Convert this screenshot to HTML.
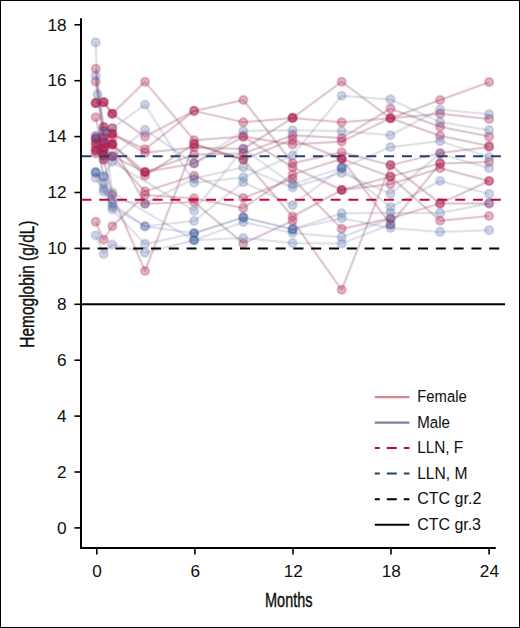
<!DOCTYPE html>
<html><head><meta charset="utf-8"><style>
html,body{margin:0;padding:0;background:#fff;width:520px;height:628px;overflow:hidden;}
svg{display:block;font-family:"Liberation Sans", sans-serif;}
#w{width:520px;height:628px;}
</style></head><body><div id="w">
<svg width="520" height="628" viewBox="0 0 520 628">
<rect x="0" y="0" width="520" height="628" fill="#fff"/>
<g>
<defs><filter id="db" x="0" y="0" width="520" height="628" filterUnits="userSpaceOnUse"><feConvolveMatrix order="3" kernelMatrix="0 1 0 1 6 1 0 1 0"/></filter></defs>
<g filter="url(#db)"><rect x="82" y="20" width="430" height="280" fill="#fff"/>
<polyline points="95.7,103.1 103.7,102.2 112.3,113.7 145.0,81.8 194.1,140.2 243.3,136.6 292.6,144.4 341.7,141.6 390.5,118.2 440.1,135.8 489.1,146.1" fill="none" stroke="rgb(145,55,88)" stroke-opacity="0.32" stroke-width="2.0" stroke-linejoin="round"/>
<circle cx="95.7" cy="103.1" r="4.1" fill="rgb(170,18,68)" fill-opacity="0.3" stroke="rgb(170,18,68)" stroke-opacity="0.3" stroke-width="1.9"/>
<circle cx="103.7" cy="102.2" r="4.1" fill="rgb(170,18,68)" fill-opacity="0.3" stroke="rgb(170,18,68)" stroke-opacity="0.3" stroke-width="1.9"/>
<circle cx="112.3" cy="113.7" r="4.1" fill="rgb(170,18,68)" fill-opacity="0.3" stroke="rgb(170,18,68)" stroke-opacity="0.3" stroke-width="1.9"/>
<circle cx="145.0" cy="81.8" r="4.1" fill="rgb(170,18,68)" fill-opacity="0.3" stroke="rgb(170,18,68)" stroke-opacity="0.3" stroke-width="1.9"/>
<circle cx="194.1" cy="140.2" r="4.1" fill="rgb(170,18,68)" fill-opacity="0.3" stroke="rgb(170,18,68)" stroke-opacity="0.3" stroke-width="1.9"/>
<circle cx="243.3" cy="136.6" r="4.1" fill="rgb(170,18,68)" fill-opacity="0.3" stroke="rgb(170,18,68)" stroke-opacity="0.3" stroke-width="1.9"/>
<circle cx="292.6" cy="144.4" r="4.1" fill="rgb(170,18,68)" fill-opacity="0.3" stroke="rgb(170,18,68)" stroke-opacity="0.3" stroke-width="1.9"/>
<circle cx="341.7" cy="141.6" r="4.1" fill="rgb(170,18,68)" fill-opacity="0.3" stroke="rgb(170,18,68)" stroke-opacity="0.3" stroke-width="1.9"/>
<circle cx="390.5" cy="118.2" r="4.1" fill="rgb(170,18,68)" fill-opacity="0.3" stroke="rgb(170,18,68)" stroke-opacity="0.3" stroke-width="1.9"/>
<circle cx="440.1" cy="135.8" r="4.1" fill="rgb(170,18,68)" fill-opacity="0.3" stroke="rgb(170,18,68)" stroke-opacity="0.3" stroke-width="1.9"/>
<circle cx="489.1" cy="146.1" r="4.1" fill="rgb(170,18,68)" fill-opacity="0.3" stroke="rgb(170,18,68)" stroke-opacity="0.3" stroke-width="1.9"/>
<polyline points="95.7,103.1 103.7,102.2 112.3,113.7 145.0,136.6 194.1,110.9 243.3,100.0 292.6,163.2 341.7,152.3 390.5,165.1 440.1,153.1 489.1,146.9" fill="none" stroke="rgb(145,55,88)" stroke-opacity="0.32" stroke-width="2.0" stroke-linejoin="round"/>
<circle cx="95.7" cy="103.1" r="4.1" fill="rgb(170,18,68)" fill-opacity="0.3" stroke="rgb(170,18,68)" stroke-opacity="0.3" stroke-width="1.9"/>
<circle cx="103.7" cy="102.2" r="4.1" fill="rgb(170,18,68)" fill-opacity="0.3" stroke="rgb(170,18,68)" stroke-opacity="0.3" stroke-width="1.9"/>
<circle cx="112.3" cy="113.7" r="4.1" fill="rgb(170,18,68)" fill-opacity="0.3" stroke="rgb(170,18,68)" stroke-opacity="0.3" stroke-width="1.9"/>
<circle cx="145.0" cy="136.6" r="4.1" fill="rgb(170,18,68)" fill-opacity="0.3" stroke="rgb(170,18,68)" stroke-opacity="0.3" stroke-width="1.9"/>
<circle cx="194.1" cy="110.9" r="4.1" fill="rgb(170,18,68)" fill-opacity="0.3" stroke="rgb(170,18,68)" stroke-opacity="0.3" stroke-width="1.9"/>
<circle cx="243.3" cy="100.0" r="4.1" fill="rgb(170,18,68)" fill-opacity="0.3" stroke="rgb(170,18,68)" stroke-opacity="0.3" stroke-width="1.9"/>
<circle cx="292.6" cy="163.2" r="4.1" fill="rgb(170,18,68)" fill-opacity="0.3" stroke="rgb(170,18,68)" stroke-opacity="0.3" stroke-width="1.9"/>
<circle cx="341.7" cy="152.3" r="4.1" fill="rgb(170,18,68)" fill-opacity="0.3" stroke="rgb(170,18,68)" stroke-opacity="0.3" stroke-width="1.9"/>
<circle cx="390.5" cy="165.1" r="4.1" fill="rgb(170,18,68)" fill-opacity="0.3" stroke="rgb(170,18,68)" stroke-opacity="0.3" stroke-width="1.9"/>
<circle cx="440.1" cy="153.1" r="4.1" fill="rgb(170,18,68)" fill-opacity="0.3" stroke="rgb(170,18,68)" stroke-opacity="0.3" stroke-width="1.9"/>
<circle cx="489.1" cy="146.9" r="4.1" fill="rgb(170,18,68)" fill-opacity="0.3" stroke="rgb(170,18,68)" stroke-opacity="0.3" stroke-width="1.9"/>
<polyline points="95.7,68.7 103.7,127.1 112.3,133.8 145.0,149.2 194.1,110.9 243.3,122.3 292.6,117.9 341.7,81.8 390.5,118.2 440.1,100.0 489.1,82.1" fill="none" stroke="rgb(145,55,88)" stroke-opacity="0.32" stroke-width="2.0" stroke-linejoin="round"/>
<circle cx="95.7" cy="68.7" r="4.1" fill="rgb(170,18,68)" fill-opacity="0.3" stroke="rgb(170,18,68)" stroke-opacity="0.3" stroke-width="1.9"/>
<circle cx="103.7" cy="127.1" r="4.1" fill="rgb(170,18,68)" fill-opacity="0.3" stroke="rgb(170,18,68)" stroke-opacity="0.3" stroke-width="1.9"/>
<circle cx="112.3" cy="133.8" r="4.1" fill="rgb(170,18,68)" fill-opacity="0.3" stroke="rgb(170,18,68)" stroke-opacity="0.3" stroke-width="1.9"/>
<circle cx="145.0" cy="149.2" r="4.1" fill="rgb(170,18,68)" fill-opacity="0.3" stroke="rgb(170,18,68)" stroke-opacity="0.3" stroke-width="1.9"/>
<circle cx="194.1" cy="110.9" r="4.1" fill="rgb(170,18,68)" fill-opacity="0.3" stroke="rgb(170,18,68)" stroke-opacity="0.3" stroke-width="1.9"/>
<circle cx="243.3" cy="122.3" r="4.1" fill="rgb(170,18,68)" fill-opacity="0.3" stroke="rgb(170,18,68)" stroke-opacity="0.3" stroke-width="1.9"/>
<circle cx="292.6" cy="117.9" r="4.1" fill="rgb(170,18,68)" fill-opacity="0.3" stroke="rgb(170,18,68)" stroke-opacity="0.3" stroke-width="1.9"/>
<circle cx="341.7" cy="81.8" r="4.1" fill="rgb(170,18,68)" fill-opacity="0.3" stroke="rgb(170,18,68)" stroke-opacity="0.3" stroke-width="1.9"/>
<circle cx="390.5" cy="118.2" r="4.1" fill="rgb(170,18,68)" fill-opacity="0.3" stroke="rgb(170,18,68)" stroke-opacity="0.3" stroke-width="1.9"/>
<circle cx="440.1" cy="100.0" r="4.1" fill="rgb(170,18,68)" fill-opacity="0.3" stroke="rgb(170,18,68)" stroke-opacity="0.3" stroke-width="1.9"/>
<circle cx="489.1" cy="82.1" r="4.1" fill="rgb(170,18,68)" fill-opacity="0.3" stroke="rgb(170,18,68)" stroke-opacity="0.3" stroke-width="1.9"/>
<polyline points="95.7,81.5 103.7,136.6 112.3,133.8 145.0,152.8 194.1,147.5 243.3,148.9 292.6,117.9 341.7,122.3 390.5,118.2 440.1,113.7 489.1,119.0" fill="none" stroke="rgb(145,55,88)" stroke-opacity="0.32" stroke-width="2.0" stroke-linejoin="round"/>
<circle cx="95.7" cy="81.5" r="4.1" fill="rgb(170,18,68)" fill-opacity="0.3" stroke="rgb(170,18,68)" stroke-opacity="0.3" stroke-width="1.9"/>
<circle cx="103.7" cy="136.6" r="4.1" fill="rgb(170,18,68)" fill-opacity="0.3" stroke="rgb(170,18,68)" stroke-opacity="0.3" stroke-width="1.9"/>
<circle cx="112.3" cy="133.8" r="4.1" fill="rgb(170,18,68)" fill-opacity="0.3" stroke="rgb(170,18,68)" stroke-opacity="0.3" stroke-width="1.9"/>
<circle cx="145.0" cy="152.8" r="4.1" fill="rgb(170,18,68)" fill-opacity="0.3" stroke="rgb(170,18,68)" stroke-opacity="0.3" stroke-width="1.9"/>
<circle cx="194.1" cy="147.5" r="4.1" fill="rgb(170,18,68)" fill-opacity="0.3" stroke="rgb(170,18,68)" stroke-opacity="0.3" stroke-width="1.9"/>
<circle cx="243.3" cy="148.9" r="4.1" fill="rgb(170,18,68)" fill-opacity="0.3" stroke="rgb(170,18,68)" stroke-opacity="0.3" stroke-width="1.9"/>
<circle cx="292.6" cy="117.9" r="4.1" fill="rgb(170,18,68)" fill-opacity="0.3" stroke="rgb(170,18,68)" stroke-opacity="0.3" stroke-width="1.9"/>
<circle cx="341.7" cy="122.3" r="4.1" fill="rgb(170,18,68)" fill-opacity="0.3" stroke="rgb(170,18,68)" stroke-opacity="0.3" stroke-width="1.9"/>
<circle cx="390.5" cy="118.2" r="4.1" fill="rgb(170,18,68)" fill-opacity="0.3" stroke="rgb(170,18,68)" stroke-opacity="0.3" stroke-width="1.9"/>
<circle cx="440.1" cy="113.7" r="4.1" fill="rgb(170,18,68)" fill-opacity="0.3" stroke="rgb(170,18,68)" stroke-opacity="0.3" stroke-width="1.9"/>
<circle cx="489.1" cy="119.0" r="4.1" fill="rgb(170,18,68)" fill-opacity="0.3" stroke="rgb(170,18,68)" stroke-opacity="0.3" stroke-width="1.9"/>
<polyline points="95.7,139.4 103.7,142.2 112.3,144.4 145.0,172.1 194.1,154.5 243.3,153.4 292.6,135.2 341.7,138.0 390.5,108.6 440.1,126.8 489.1,136.6" fill="none" stroke="rgb(145,55,88)" stroke-opacity="0.32" stroke-width="2.0" stroke-linejoin="round"/>
<circle cx="95.7" cy="139.4" r="4.1" fill="rgb(170,18,68)" fill-opacity="0.3" stroke="rgb(170,18,68)" stroke-opacity="0.3" stroke-width="1.9"/>
<circle cx="103.7" cy="142.2" r="4.1" fill="rgb(170,18,68)" fill-opacity="0.3" stroke="rgb(170,18,68)" stroke-opacity="0.3" stroke-width="1.9"/>
<circle cx="112.3" cy="144.4" r="4.1" fill="rgb(170,18,68)" fill-opacity="0.3" stroke="rgb(170,18,68)" stroke-opacity="0.3" stroke-width="1.9"/>
<circle cx="145.0" cy="172.1" r="4.1" fill="rgb(170,18,68)" fill-opacity="0.3" stroke="rgb(170,18,68)" stroke-opacity="0.3" stroke-width="1.9"/>
<circle cx="194.1" cy="154.5" r="4.1" fill="rgb(170,18,68)" fill-opacity="0.3" stroke="rgb(170,18,68)" stroke-opacity="0.3" stroke-width="1.9"/>
<circle cx="243.3" cy="153.4" r="4.1" fill="rgb(170,18,68)" fill-opacity="0.3" stroke="rgb(170,18,68)" stroke-opacity="0.3" stroke-width="1.9"/>
<circle cx="292.6" cy="135.2" r="4.1" fill="rgb(170,18,68)" fill-opacity="0.3" stroke="rgb(170,18,68)" stroke-opacity="0.3" stroke-width="1.9"/>
<circle cx="341.7" cy="138.0" r="4.1" fill="rgb(170,18,68)" fill-opacity="0.3" stroke="rgb(170,18,68)" stroke-opacity="0.3" stroke-width="1.9"/>
<circle cx="390.5" cy="108.6" r="4.1" fill="rgb(170,18,68)" fill-opacity="0.3" stroke="rgb(170,18,68)" stroke-opacity="0.3" stroke-width="1.9"/>
<circle cx="440.1" cy="126.8" r="4.1" fill="rgb(170,18,68)" fill-opacity="0.3" stroke="rgb(170,18,68)" stroke-opacity="0.3" stroke-width="1.9"/>
<circle cx="489.1" cy="136.6" r="4.1" fill="rgb(170,18,68)" fill-opacity="0.3" stroke="rgb(170,18,68)" stroke-opacity="0.3" stroke-width="1.9"/>
<polyline points="95.7,143.6 103.7,147.8 112.3,144.4 145.0,175.7 194.1,144.1 243.3,159.5 292.6,139.4 341.7,158.7 390.5,176.6 440.1,163.4 489.1,162.0" fill="none" stroke="rgb(145,55,88)" stroke-opacity="0.32" stroke-width="2.0" stroke-linejoin="round"/>
<circle cx="95.7" cy="143.6" r="4.1" fill="rgb(170,18,68)" fill-opacity="0.3" stroke="rgb(170,18,68)" stroke-opacity="0.3" stroke-width="1.9"/>
<circle cx="103.7" cy="147.8" r="4.1" fill="rgb(170,18,68)" fill-opacity="0.3" stroke="rgb(170,18,68)" stroke-opacity="0.3" stroke-width="1.9"/>
<circle cx="112.3" cy="144.4" r="4.1" fill="rgb(170,18,68)" fill-opacity="0.3" stroke="rgb(170,18,68)" stroke-opacity="0.3" stroke-width="1.9"/>
<circle cx="145.0" cy="175.7" r="4.1" fill="rgb(170,18,68)" fill-opacity="0.3" stroke="rgb(170,18,68)" stroke-opacity="0.3" stroke-width="1.9"/>
<circle cx="194.1" cy="144.1" r="4.1" fill="rgb(170,18,68)" fill-opacity="0.3" stroke="rgb(170,18,68)" stroke-opacity="0.3" stroke-width="1.9"/>
<circle cx="243.3" cy="159.5" r="4.1" fill="rgb(170,18,68)" fill-opacity="0.3" stroke="rgb(170,18,68)" stroke-opacity="0.3" stroke-width="1.9"/>
<circle cx="292.6" cy="139.4" r="4.1" fill="rgb(170,18,68)" fill-opacity="0.3" stroke="rgb(170,18,68)" stroke-opacity="0.3" stroke-width="1.9"/>
<circle cx="341.7" cy="158.7" r="4.1" fill="rgb(170,18,68)" fill-opacity="0.3" stroke="rgb(170,18,68)" stroke-opacity="0.3" stroke-width="1.9"/>
<circle cx="390.5" cy="176.6" r="4.1" fill="rgb(170,18,68)" fill-opacity="0.3" stroke="rgb(170,18,68)" stroke-opacity="0.3" stroke-width="1.9"/>
<circle cx="440.1" cy="163.4" r="4.1" fill="rgb(170,18,68)" fill-opacity="0.3" stroke="rgb(170,18,68)" stroke-opacity="0.3" stroke-width="1.9"/>
<circle cx="489.1" cy="162.0" r="4.1" fill="rgb(170,18,68)" fill-opacity="0.3" stroke="rgb(170,18,68)" stroke-opacity="0.3" stroke-width="1.9"/>
<polyline points="95.7,147.8 103.7,150.6 112.3,156.2 145.0,172.1 194.1,163.4 243.3,136.6 292.6,167.3 341.7,190.0 390.5,184.1 440.1,168.2 489.1,181.0" fill="none" stroke="rgb(145,55,88)" stroke-opacity="0.32" stroke-width="2.0" stroke-linejoin="round"/>
<circle cx="95.7" cy="147.8" r="4.1" fill="rgb(170,18,68)" fill-opacity="0.3" stroke="rgb(170,18,68)" stroke-opacity="0.3" stroke-width="1.9"/>
<circle cx="103.7" cy="150.6" r="4.1" fill="rgb(170,18,68)" fill-opacity="0.3" stroke="rgb(170,18,68)" stroke-opacity="0.3" stroke-width="1.9"/>
<circle cx="112.3" cy="156.2" r="4.1" fill="rgb(170,18,68)" fill-opacity="0.3" stroke="rgb(170,18,68)" stroke-opacity="0.3" stroke-width="1.9"/>
<circle cx="145.0" cy="172.1" r="4.1" fill="rgb(170,18,68)" fill-opacity="0.3" stroke="rgb(170,18,68)" stroke-opacity="0.3" stroke-width="1.9"/>
<circle cx="194.1" cy="163.4" r="4.1" fill="rgb(170,18,68)" fill-opacity="0.3" stroke="rgb(170,18,68)" stroke-opacity="0.3" stroke-width="1.9"/>
<circle cx="243.3" cy="136.6" r="4.1" fill="rgb(170,18,68)" fill-opacity="0.3" stroke="rgb(170,18,68)" stroke-opacity="0.3" stroke-width="1.9"/>
<circle cx="292.6" cy="167.3" r="4.1" fill="rgb(170,18,68)" fill-opacity="0.3" stroke="rgb(170,18,68)" stroke-opacity="0.3" stroke-width="1.9"/>
<circle cx="341.7" cy="190.0" r="4.1" fill="rgb(170,18,68)" fill-opacity="0.3" stroke="rgb(170,18,68)" stroke-opacity="0.3" stroke-width="1.9"/>
<circle cx="390.5" cy="184.1" r="4.1" fill="rgb(170,18,68)" fill-opacity="0.3" stroke="rgb(170,18,68)" stroke-opacity="0.3" stroke-width="1.9"/>
<circle cx="440.1" cy="168.2" r="4.1" fill="rgb(170,18,68)" fill-opacity="0.3" stroke="rgb(170,18,68)" stroke-opacity="0.3" stroke-width="1.9"/>
<circle cx="489.1" cy="181.0" r="4.1" fill="rgb(170,18,68)" fill-opacity="0.3" stroke="rgb(170,18,68)" stroke-opacity="0.3" stroke-width="1.9"/>
<polyline points="95.7,117.3 103.7,156.2 112.3,156.2 145.0,191.4 194.1,175.7 243.3,198.1 292.6,178.8 341.7,228.8 390.5,218.5 440.1,203.4 489.1,203.4" fill="none" stroke="rgb(145,55,88)" stroke-opacity="0.32" stroke-width="2.0" stroke-linejoin="round"/>
<circle cx="95.7" cy="117.3" r="4.1" fill="rgb(170,18,68)" fill-opacity="0.3" stroke="rgb(170,18,68)" stroke-opacity="0.3" stroke-width="1.9"/>
<circle cx="103.7" cy="156.2" r="4.1" fill="rgb(170,18,68)" fill-opacity="0.3" stroke="rgb(170,18,68)" stroke-opacity="0.3" stroke-width="1.9"/>
<circle cx="112.3" cy="156.2" r="4.1" fill="rgb(170,18,68)" fill-opacity="0.3" stroke="rgb(170,18,68)" stroke-opacity="0.3" stroke-width="1.9"/>
<circle cx="145.0" cy="191.4" r="4.1" fill="rgb(170,18,68)" fill-opacity="0.3" stroke="rgb(170,18,68)" stroke-opacity="0.3" stroke-width="1.9"/>
<circle cx="194.1" cy="175.7" r="4.1" fill="rgb(170,18,68)" fill-opacity="0.3" stroke="rgb(170,18,68)" stroke-opacity="0.3" stroke-width="1.9"/>
<circle cx="243.3" cy="198.1" r="4.1" fill="rgb(170,18,68)" fill-opacity="0.3" stroke="rgb(170,18,68)" stroke-opacity="0.3" stroke-width="1.9"/>
<circle cx="292.6" cy="178.8" r="4.1" fill="rgb(170,18,68)" fill-opacity="0.3" stroke="rgb(170,18,68)" stroke-opacity="0.3" stroke-width="1.9"/>
<circle cx="341.7" cy="228.8" r="4.1" fill="rgb(170,18,68)" fill-opacity="0.3" stroke="rgb(170,18,68)" stroke-opacity="0.3" stroke-width="1.9"/>
<circle cx="390.5" cy="218.5" r="4.1" fill="rgb(170,18,68)" fill-opacity="0.3" stroke="rgb(170,18,68)" stroke-opacity="0.3" stroke-width="1.9"/>
<circle cx="440.1" cy="203.4" r="4.1" fill="rgb(170,18,68)" fill-opacity="0.3" stroke="rgb(170,18,68)" stroke-opacity="0.3" stroke-width="1.9"/>
<circle cx="489.1" cy="203.4" r="4.1" fill="rgb(170,18,68)" fill-opacity="0.3" stroke="rgb(170,18,68)" stroke-opacity="0.3" stroke-width="1.9"/>
<polyline points="95.7,150.6 103.7,160.1 112.3,195.0 145.0,271.0 194.1,144.1 243.3,159.5 292.6,216.5 341.7,190.0 390.5,176.6 440.1,220.7 489.1,216.0" fill="none" stroke="rgb(145,55,88)" stroke-opacity="0.32" stroke-width="2.0" stroke-linejoin="round"/>
<circle cx="95.7" cy="150.6" r="4.1" fill="rgb(170,18,68)" fill-opacity="0.3" stroke="rgb(170,18,68)" stroke-opacity="0.3" stroke-width="1.9"/>
<circle cx="103.7" cy="160.1" r="4.1" fill="rgb(170,18,68)" fill-opacity="0.3" stroke="rgb(170,18,68)" stroke-opacity="0.3" stroke-width="1.9"/>
<circle cx="112.3" cy="195.0" r="4.1" fill="rgb(170,18,68)" fill-opacity="0.3" stroke="rgb(170,18,68)" stroke-opacity="0.3" stroke-width="1.9"/>
<circle cx="145.0" cy="271.0" r="4.1" fill="rgb(170,18,68)" fill-opacity="0.3" stroke="rgb(170,18,68)" stroke-opacity="0.3" stroke-width="1.9"/>
<circle cx="194.1" cy="144.1" r="4.1" fill="rgb(170,18,68)" fill-opacity="0.3" stroke="rgb(170,18,68)" stroke-opacity="0.3" stroke-width="1.9"/>
<circle cx="243.3" cy="159.5" r="4.1" fill="rgb(170,18,68)" fill-opacity="0.3" stroke="rgb(170,18,68)" stroke-opacity="0.3" stroke-width="1.9"/>
<circle cx="292.6" cy="216.5" r="4.1" fill="rgb(170,18,68)" fill-opacity="0.3" stroke="rgb(170,18,68)" stroke-opacity="0.3" stroke-width="1.9"/>
<circle cx="341.7" cy="190.0" r="4.1" fill="rgb(170,18,68)" fill-opacity="0.3" stroke="rgb(170,18,68)" stroke-opacity="0.3" stroke-width="1.9"/>
<circle cx="390.5" cy="176.6" r="4.1" fill="rgb(170,18,68)" fill-opacity="0.3" stroke="rgb(170,18,68)" stroke-opacity="0.3" stroke-width="1.9"/>
<circle cx="440.1" cy="220.7" r="4.1" fill="rgb(170,18,68)" fill-opacity="0.3" stroke="rgb(170,18,68)" stroke-opacity="0.3" stroke-width="1.9"/>
<circle cx="489.1" cy="216.0" r="4.1" fill="rgb(170,18,68)" fill-opacity="0.3" stroke="rgb(170,18,68)" stroke-opacity="0.3" stroke-width="1.9"/>
<polyline points="95.7,153.4 103.7,150.6 112.3,144.4 145.0,203.7 194.1,202.0 243.3,243.6 292.6,220.7 341.7,289.8 390.5,165.1 440.1,203.4 489.1,181.0" fill="none" stroke="rgb(145,55,88)" stroke-opacity="0.32" stroke-width="2.0" stroke-linejoin="round"/>
<circle cx="95.7" cy="153.4" r="4.1" fill="rgb(170,18,68)" fill-opacity="0.3" stroke="rgb(170,18,68)" stroke-opacity="0.3" stroke-width="1.9"/>
<circle cx="103.7" cy="150.6" r="4.1" fill="rgb(170,18,68)" fill-opacity="0.3" stroke="rgb(170,18,68)" stroke-opacity="0.3" stroke-width="1.9"/>
<circle cx="112.3" cy="144.4" r="4.1" fill="rgb(170,18,68)" fill-opacity="0.3" stroke="rgb(170,18,68)" stroke-opacity="0.3" stroke-width="1.9"/>
<circle cx="145.0" cy="203.7" r="4.1" fill="rgb(170,18,68)" fill-opacity="0.3" stroke="rgb(170,18,68)" stroke-opacity="0.3" stroke-width="1.9"/>
<circle cx="194.1" cy="202.0" r="4.1" fill="rgb(170,18,68)" fill-opacity="0.3" stroke="rgb(170,18,68)" stroke-opacity="0.3" stroke-width="1.9"/>
<circle cx="243.3" cy="243.6" r="4.1" fill="rgb(170,18,68)" fill-opacity="0.3" stroke="rgb(170,18,68)" stroke-opacity="0.3" stroke-width="1.9"/>
<circle cx="292.6" cy="220.7" r="4.1" fill="rgb(170,18,68)" fill-opacity="0.3" stroke="rgb(170,18,68)" stroke-opacity="0.3" stroke-width="1.9"/>
<circle cx="341.7" cy="289.8" r="4.1" fill="rgb(170,18,68)" fill-opacity="0.3" stroke="rgb(170,18,68)" stroke-opacity="0.3" stroke-width="1.9"/>
<circle cx="390.5" cy="165.1" r="4.1" fill="rgb(170,18,68)" fill-opacity="0.3" stroke="rgb(170,18,68)" stroke-opacity="0.3" stroke-width="1.9"/>
<circle cx="440.1" cy="203.4" r="4.1" fill="rgb(170,18,68)" fill-opacity="0.3" stroke="rgb(170,18,68)" stroke-opacity="0.3" stroke-width="1.9"/>
<circle cx="489.1" cy="181.0" r="4.1" fill="rgb(170,18,68)" fill-opacity="0.3" stroke="rgb(170,18,68)" stroke-opacity="0.3" stroke-width="1.9"/>
<polyline points="95.7,221.8 103.7,239.7 112.3,226.3 145.0,195.0 194.1,198.4 243.3,207.9 292.6,174.6 341.7,158.7 390.5,224.4 440.1,163.4" fill="none" stroke="rgb(145,55,88)" stroke-opacity="0.32" stroke-width="2.0" stroke-linejoin="round"/>
<circle cx="95.7" cy="221.8" r="4.1" fill="rgb(170,18,68)" fill-opacity="0.3" stroke="rgb(170,18,68)" stroke-opacity="0.3" stroke-width="1.9"/>
<circle cx="103.7" cy="239.7" r="4.1" fill="rgb(170,18,68)" fill-opacity="0.3" stroke="rgb(170,18,68)" stroke-opacity="0.3" stroke-width="1.9"/>
<circle cx="112.3" cy="226.3" r="4.1" fill="rgb(170,18,68)" fill-opacity="0.3" stroke="rgb(170,18,68)" stroke-opacity="0.3" stroke-width="1.9"/>
<circle cx="145.0" cy="195.0" r="4.1" fill="rgb(170,18,68)" fill-opacity="0.3" stroke="rgb(170,18,68)" stroke-opacity="0.3" stroke-width="1.9"/>
<circle cx="194.1" cy="198.4" r="4.1" fill="rgb(170,18,68)" fill-opacity="0.3" stroke="rgb(170,18,68)" stroke-opacity="0.3" stroke-width="1.9"/>
<circle cx="243.3" cy="207.9" r="4.1" fill="rgb(170,18,68)" fill-opacity="0.3" stroke="rgb(170,18,68)" stroke-opacity="0.3" stroke-width="1.9"/>
<circle cx="292.6" cy="174.6" r="4.1" fill="rgb(170,18,68)" fill-opacity="0.3" stroke="rgb(170,18,68)" stroke-opacity="0.3" stroke-width="1.9"/>
<circle cx="341.7" cy="158.7" r="4.1" fill="rgb(170,18,68)" fill-opacity="0.3" stroke="rgb(170,18,68)" stroke-opacity="0.3" stroke-width="1.9"/>
<circle cx="390.5" cy="224.4" r="4.1" fill="rgb(170,18,68)" fill-opacity="0.3" stroke="rgb(170,18,68)" stroke-opacity="0.3" stroke-width="1.9"/>
<circle cx="440.1" cy="163.4" r="4.1" fill="rgb(170,18,68)" fill-opacity="0.3" stroke="rgb(170,18,68)" stroke-opacity="0.3" stroke-width="1.9"/>
<polyline points="95.7,42.4 97.6,94.4 103.7,131.0 112.3,128.2 145.0,104.7 194.1,182.7 243.3,177.4 292.6,155.3 341.7,95.8 390.5,99.4 440.1,122.1 489.1,130.2" fill="none" stroke="rgb(85,100,150)" stroke-opacity="0.22" stroke-width="2.0" stroke-linejoin="round"/>
<circle cx="95.7" cy="42.4" r="4.1" fill="rgb(55,88,155)" fill-opacity="0.23" stroke="rgb(55,88,155)" stroke-opacity="0.23" stroke-width="1.9"/>
<circle cx="97.6" cy="94.4" r="4.1" fill="rgb(55,88,155)" fill-opacity="0.23" stroke="rgb(55,88,155)" stroke-opacity="0.23" stroke-width="1.9"/>
<circle cx="103.7" cy="131.0" r="4.1" fill="rgb(55,88,155)" fill-opacity="0.23" stroke="rgb(55,88,155)" stroke-opacity="0.23" stroke-width="1.9"/>
<circle cx="112.3" cy="128.2" r="4.1" fill="rgb(55,88,155)" fill-opacity="0.23" stroke="rgb(55,88,155)" stroke-opacity="0.23" stroke-width="1.9"/>
<circle cx="145.0" cy="104.7" r="4.1" fill="rgb(55,88,155)" fill-opacity="0.23" stroke="rgb(55,88,155)" stroke-opacity="0.23" stroke-width="1.9"/>
<circle cx="194.1" cy="182.7" r="4.1" fill="rgb(55,88,155)" fill-opacity="0.23" stroke="rgb(55,88,155)" stroke-opacity="0.23" stroke-width="1.9"/>
<circle cx="243.3" cy="177.4" r="4.1" fill="rgb(55,88,155)" fill-opacity="0.23" stroke="rgb(55,88,155)" stroke-opacity="0.23" stroke-width="1.9"/>
<circle cx="292.6" cy="155.3" r="4.1" fill="rgb(55,88,155)" fill-opacity="0.23" stroke="rgb(55,88,155)" stroke-opacity="0.23" stroke-width="1.9"/>
<circle cx="341.7" cy="95.8" r="4.1" fill="rgb(55,88,155)" fill-opacity="0.23" stroke="rgb(55,88,155)" stroke-opacity="0.23" stroke-width="1.9"/>
<circle cx="390.5" cy="99.4" r="4.1" fill="rgb(55,88,155)" fill-opacity="0.23" stroke="rgb(55,88,155)" stroke-opacity="0.23" stroke-width="1.9"/>
<circle cx="440.1" cy="122.1" r="4.1" fill="rgb(55,88,155)" fill-opacity="0.23" stroke="rgb(55,88,155)" stroke-opacity="0.23" stroke-width="1.9"/>
<circle cx="489.1" cy="130.2" r="4.1" fill="rgb(55,88,155)" fill-opacity="0.23" stroke="rgb(55,88,155)" stroke-opacity="0.23" stroke-width="1.9"/>
<polyline points="95.7,75.7 103.7,139.4 112.3,156.7 145.0,129.9 194.1,163.4 243.3,131.0 292.6,130.2 341.7,131.0 390.5,135.2 440.1,109.5 489.1,114.2" fill="none" stroke="rgb(85,100,150)" stroke-opacity="0.22" stroke-width="2.0" stroke-linejoin="round"/>
<circle cx="95.7" cy="75.7" r="4.1" fill="rgb(55,88,155)" fill-opacity="0.23" stroke="rgb(55,88,155)" stroke-opacity="0.23" stroke-width="1.9"/>
<circle cx="103.7" cy="139.4" r="4.1" fill="rgb(55,88,155)" fill-opacity="0.23" stroke="rgb(55,88,155)" stroke-opacity="0.23" stroke-width="1.9"/>
<circle cx="112.3" cy="156.7" r="4.1" fill="rgb(55,88,155)" fill-opacity="0.23" stroke="rgb(55,88,155)" stroke-opacity="0.23" stroke-width="1.9"/>
<circle cx="145.0" cy="129.9" r="4.1" fill="rgb(55,88,155)" fill-opacity="0.23" stroke="rgb(55,88,155)" stroke-opacity="0.23" stroke-width="1.9"/>
<circle cx="194.1" cy="163.4" r="4.1" fill="rgb(55,88,155)" fill-opacity="0.23" stroke="rgb(55,88,155)" stroke-opacity="0.23" stroke-width="1.9"/>
<circle cx="243.3" cy="131.0" r="4.1" fill="rgb(55,88,155)" fill-opacity="0.23" stroke="rgb(55,88,155)" stroke-opacity="0.23" stroke-width="1.9"/>
<circle cx="292.6" cy="130.2" r="4.1" fill="rgb(55,88,155)" fill-opacity="0.23" stroke="rgb(55,88,155)" stroke-opacity="0.23" stroke-width="1.9"/>
<circle cx="341.7" cy="131.0" r="4.1" fill="rgb(55,88,155)" fill-opacity="0.23" stroke="rgb(55,88,155)" stroke-opacity="0.23" stroke-width="1.9"/>
<circle cx="390.5" cy="135.2" r="4.1" fill="rgb(55,88,155)" fill-opacity="0.23" stroke="rgb(55,88,155)" stroke-opacity="0.23" stroke-width="1.9"/>
<circle cx="440.1" cy="109.5" r="4.1" fill="rgb(55,88,155)" fill-opacity="0.23" stroke="rgb(55,88,155)" stroke-opacity="0.23" stroke-width="1.9"/>
<circle cx="489.1" cy="114.2" r="4.1" fill="rgb(55,88,155)" fill-opacity="0.23" stroke="rgb(55,88,155)" stroke-opacity="0.23" stroke-width="1.9"/>
<polyline points="95.7,135.8 103.7,176.0 112.3,161.8 194.1,210.7 243.3,148.9 292.6,184.4 341.7,167.9 390.5,147.2 440.1,141.1 489.1,157.0" fill="none" stroke="rgb(85,100,150)" stroke-opacity="0.22" stroke-width="2.0" stroke-linejoin="round"/>
<circle cx="95.7" cy="135.8" r="4.1" fill="rgb(55,88,155)" fill-opacity="0.23" stroke="rgb(55,88,155)" stroke-opacity="0.23" stroke-width="1.9"/>
<circle cx="103.7" cy="176.0" r="4.1" fill="rgb(55,88,155)" fill-opacity="0.23" stroke="rgb(55,88,155)" stroke-opacity="0.23" stroke-width="1.9"/>
<circle cx="112.3" cy="161.8" r="4.1" fill="rgb(55,88,155)" fill-opacity="0.23" stroke="rgb(55,88,155)" stroke-opacity="0.23" stroke-width="1.9"/>
<circle cx="194.1" cy="210.7" r="4.1" fill="rgb(55,88,155)" fill-opacity="0.23" stroke="rgb(55,88,155)" stroke-opacity="0.23" stroke-width="1.9"/>
<circle cx="243.3" cy="148.9" r="4.1" fill="rgb(55,88,155)" fill-opacity="0.23" stroke="rgb(55,88,155)" stroke-opacity="0.23" stroke-width="1.9"/>
<circle cx="292.6" cy="184.4" r="4.1" fill="rgb(55,88,155)" fill-opacity="0.23" stroke="rgb(55,88,155)" stroke-opacity="0.23" stroke-width="1.9"/>
<circle cx="341.7" cy="167.9" r="4.1" fill="rgb(55,88,155)" fill-opacity="0.23" stroke="rgb(55,88,155)" stroke-opacity="0.23" stroke-width="1.9"/>
<circle cx="390.5" cy="147.2" r="4.1" fill="rgb(55,88,155)" fill-opacity="0.23" stroke="rgb(55,88,155)" stroke-opacity="0.23" stroke-width="1.9"/>
<circle cx="440.1" cy="141.1" r="4.1" fill="rgb(55,88,155)" fill-opacity="0.23" stroke="rgb(55,88,155)" stroke-opacity="0.23" stroke-width="1.9"/>
<circle cx="489.1" cy="157.0" r="4.1" fill="rgb(55,88,155)" fill-opacity="0.23" stroke="rgb(55,88,155)" stroke-opacity="0.23" stroke-width="1.9"/>
<polyline points="95.7,139.4 103.7,177.1 112.3,200.0 145.0,203.7 194.1,178.5 243.3,167.3 292.6,187.5 341.7,172.9 390.5,193.6 440.1,153.9 489.1,168.2" fill="none" stroke="rgb(85,100,150)" stroke-opacity="0.22" stroke-width="2.0" stroke-linejoin="round"/>
<circle cx="95.7" cy="139.4" r="4.1" fill="rgb(55,88,155)" fill-opacity="0.23" stroke="rgb(55,88,155)" stroke-opacity="0.23" stroke-width="1.9"/>
<circle cx="103.7" cy="177.1" r="4.1" fill="rgb(55,88,155)" fill-opacity="0.23" stroke="rgb(55,88,155)" stroke-opacity="0.23" stroke-width="1.9"/>
<circle cx="112.3" cy="200.0" r="4.1" fill="rgb(55,88,155)" fill-opacity="0.23" stroke="rgb(55,88,155)" stroke-opacity="0.23" stroke-width="1.9"/>
<circle cx="145.0" cy="203.7" r="4.1" fill="rgb(55,88,155)" fill-opacity="0.23" stroke="rgb(55,88,155)" stroke-opacity="0.23" stroke-width="1.9"/>
<circle cx="194.1" cy="178.5" r="4.1" fill="rgb(55,88,155)" fill-opacity="0.23" stroke="rgb(55,88,155)" stroke-opacity="0.23" stroke-width="1.9"/>
<circle cx="243.3" cy="167.3" r="4.1" fill="rgb(55,88,155)" fill-opacity="0.23" stroke="rgb(55,88,155)" stroke-opacity="0.23" stroke-width="1.9"/>
<circle cx="292.6" cy="187.5" r="4.1" fill="rgb(55,88,155)" fill-opacity="0.23" stroke="rgb(55,88,155)" stroke-opacity="0.23" stroke-width="1.9"/>
<circle cx="341.7" cy="172.9" r="4.1" fill="rgb(55,88,155)" fill-opacity="0.23" stroke="rgb(55,88,155)" stroke-opacity="0.23" stroke-width="1.9"/>
<circle cx="390.5" cy="193.6" r="4.1" fill="rgb(55,88,155)" fill-opacity="0.23" stroke="rgb(55,88,155)" stroke-opacity="0.23" stroke-width="1.9"/>
<circle cx="440.1" cy="153.9" r="4.1" fill="rgb(55,88,155)" fill-opacity="0.23" stroke="rgb(55,88,155)" stroke-opacity="0.23" stroke-width="1.9"/>
<circle cx="489.1" cy="168.2" r="4.1" fill="rgb(55,88,155)" fill-opacity="0.23" stroke="rgb(55,88,155)" stroke-opacity="0.23" stroke-width="1.9"/>
<polyline points="95.7,172.4 103.7,183.0 112.3,206.8 145.0,226.3 194.1,221.0 243.3,182.2 292.6,205.1 341.7,167.9 390.5,207.0 440.1,181.0 489.1,193.9" fill="none" stroke="rgb(85,100,150)" stroke-opacity="0.22" stroke-width="2.0" stroke-linejoin="round"/>
<circle cx="95.7" cy="172.4" r="4.1" fill="rgb(55,88,155)" fill-opacity="0.23" stroke="rgb(55,88,155)" stroke-opacity="0.23" stroke-width="1.9"/>
<circle cx="103.7" cy="183.0" r="4.1" fill="rgb(55,88,155)" fill-opacity="0.23" stroke="rgb(55,88,155)" stroke-opacity="0.23" stroke-width="1.9"/>
<circle cx="112.3" cy="206.8" r="4.1" fill="rgb(55,88,155)" fill-opacity="0.23" stroke="rgb(55,88,155)" stroke-opacity="0.23" stroke-width="1.9"/>
<circle cx="145.0" cy="226.3" r="4.1" fill="rgb(55,88,155)" fill-opacity="0.23" stroke="rgb(55,88,155)" stroke-opacity="0.23" stroke-width="1.9"/>
<circle cx="194.1" cy="221.0" r="4.1" fill="rgb(55,88,155)" fill-opacity="0.23" stroke="rgb(55,88,155)" stroke-opacity="0.23" stroke-width="1.9"/>
<circle cx="243.3" cy="182.2" r="4.1" fill="rgb(55,88,155)" fill-opacity="0.23" stroke="rgb(55,88,155)" stroke-opacity="0.23" stroke-width="1.9"/>
<circle cx="292.6" cy="205.1" r="4.1" fill="rgb(55,88,155)" fill-opacity="0.23" stroke="rgb(55,88,155)" stroke-opacity="0.23" stroke-width="1.9"/>
<circle cx="341.7" cy="167.9" r="4.1" fill="rgb(55,88,155)" fill-opacity="0.23" stroke="rgb(55,88,155)" stroke-opacity="0.23" stroke-width="1.9"/>
<circle cx="390.5" cy="207.0" r="4.1" fill="rgb(55,88,155)" fill-opacity="0.23" stroke="rgb(55,88,155)" stroke-opacity="0.23" stroke-width="1.9"/>
<circle cx="440.1" cy="181.0" r="4.1" fill="rgb(55,88,155)" fill-opacity="0.23" stroke="rgb(55,88,155)" stroke-opacity="0.23" stroke-width="1.9"/>
<circle cx="489.1" cy="193.9" r="4.1" fill="rgb(55,88,155)" fill-opacity="0.23" stroke="rgb(55,88,155)" stroke-opacity="0.23" stroke-width="1.9"/>
<polyline points="95.7,172.4 103.7,188.6 112.3,209.5 145.0,243.9 194.1,233.3 243.3,217.4 292.6,229.4 341.7,213.2 390.5,212.9 440.1,212.9 489.1,203.4" fill="none" stroke="rgb(85,100,150)" stroke-opacity="0.22" stroke-width="2.0" stroke-linejoin="round"/>
<circle cx="95.7" cy="172.4" r="4.1" fill="rgb(55,88,155)" fill-opacity="0.23" stroke="rgb(55,88,155)" stroke-opacity="0.23" stroke-width="1.9"/>
<circle cx="103.7" cy="188.6" r="4.1" fill="rgb(55,88,155)" fill-opacity="0.23" stroke="rgb(55,88,155)" stroke-opacity="0.23" stroke-width="1.9"/>
<circle cx="112.3" cy="209.5" r="4.1" fill="rgb(55,88,155)" fill-opacity="0.23" stroke="rgb(55,88,155)" stroke-opacity="0.23" stroke-width="1.9"/>
<circle cx="145.0" cy="243.9" r="4.1" fill="rgb(55,88,155)" fill-opacity="0.23" stroke="rgb(55,88,155)" stroke-opacity="0.23" stroke-width="1.9"/>
<circle cx="194.1" cy="233.3" r="4.1" fill="rgb(55,88,155)" fill-opacity="0.23" stroke="rgb(55,88,155)" stroke-opacity="0.23" stroke-width="1.9"/>
<circle cx="243.3" cy="217.4" r="4.1" fill="rgb(55,88,155)" fill-opacity="0.23" stroke="rgb(55,88,155)" stroke-opacity="0.23" stroke-width="1.9"/>
<circle cx="292.6" cy="229.4" r="4.1" fill="rgb(55,88,155)" fill-opacity="0.23" stroke="rgb(55,88,155)" stroke-opacity="0.23" stroke-width="1.9"/>
<circle cx="341.7" cy="213.2" r="4.1" fill="rgb(55,88,155)" fill-opacity="0.23" stroke="rgb(55,88,155)" stroke-opacity="0.23" stroke-width="1.9"/>
<circle cx="390.5" cy="212.9" r="4.1" fill="rgb(55,88,155)" fill-opacity="0.23" stroke="rgb(55,88,155)" stroke-opacity="0.23" stroke-width="1.9"/>
<circle cx="440.1" cy="212.9" r="4.1" fill="rgb(55,88,155)" fill-opacity="0.23" stroke="rgb(55,88,155)" stroke-opacity="0.23" stroke-width="1.9"/>
<circle cx="489.1" cy="203.4" r="4.1" fill="rgb(55,88,155)" fill-opacity="0.23" stroke="rgb(55,88,155)" stroke-opacity="0.23" stroke-width="1.9"/>
<polyline points="95.7,178.0 103.7,191.4 112.3,203.7 145.0,226.3 194.1,233.3 243.3,217.4 292.6,229.4 341.7,218.2 390.5,228.0 440.1,231.9 489.1,230.2" fill="none" stroke="rgb(85,100,150)" stroke-opacity="0.22" stroke-width="2.0" stroke-linejoin="round"/>
<circle cx="95.7" cy="178.0" r="4.1" fill="rgb(55,88,155)" fill-opacity="0.23" stroke="rgb(55,88,155)" stroke-opacity="0.23" stroke-width="1.9"/>
<circle cx="103.7" cy="191.4" r="4.1" fill="rgb(55,88,155)" fill-opacity="0.23" stroke="rgb(55,88,155)" stroke-opacity="0.23" stroke-width="1.9"/>
<circle cx="112.3" cy="203.7" r="4.1" fill="rgb(55,88,155)" fill-opacity="0.23" stroke="rgb(55,88,155)" stroke-opacity="0.23" stroke-width="1.9"/>
<circle cx="145.0" cy="226.3" r="4.1" fill="rgb(55,88,155)" fill-opacity="0.23" stroke="rgb(55,88,155)" stroke-opacity="0.23" stroke-width="1.9"/>
<circle cx="194.1" cy="233.3" r="4.1" fill="rgb(55,88,155)" fill-opacity="0.23" stroke="rgb(55,88,155)" stroke-opacity="0.23" stroke-width="1.9"/>
<circle cx="243.3" cy="217.4" r="4.1" fill="rgb(55,88,155)" fill-opacity="0.23" stroke="rgb(55,88,155)" stroke-opacity="0.23" stroke-width="1.9"/>
<circle cx="292.6" cy="229.4" r="4.1" fill="rgb(55,88,155)" fill-opacity="0.23" stroke="rgb(55,88,155)" stroke-opacity="0.23" stroke-width="1.9"/>
<circle cx="341.7" cy="218.2" r="4.1" fill="rgb(55,88,155)" fill-opacity="0.23" stroke="rgb(55,88,155)" stroke-opacity="0.23" stroke-width="1.9"/>
<circle cx="390.5" cy="228.0" r="4.1" fill="rgb(55,88,155)" fill-opacity="0.23" stroke="rgb(55,88,155)" stroke-opacity="0.23" stroke-width="1.9"/>
<circle cx="440.1" cy="231.9" r="4.1" fill="rgb(55,88,155)" fill-opacity="0.23" stroke="rgb(55,88,155)" stroke-opacity="0.23" stroke-width="1.9"/>
<circle cx="489.1" cy="230.2" r="4.1" fill="rgb(55,88,155)" fill-opacity="0.23" stroke="rgb(55,88,155)" stroke-opacity="0.23" stroke-width="1.9"/>
<polyline points="95.7,235.3 103.7,254.0 112.3,244.5 145.0,252.6 194.1,240.3 243.3,222.1 292.6,233.0 341.7,237.2 390.5,218.5" fill="none" stroke="rgb(85,100,150)" stroke-opacity="0.22" stroke-width="2.0" stroke-linejoin="round"/>
<circle cx="95.7" cy="235.3" r="4.1" fill="rgb(55,88,155)" fill-opacity="0.23" stroke="rgb(55,88,155)" stroke-opacity="0.23" stroke-width="1.9"/>
<circle cx="103.7" cy="254.0" r="4.1" fill="rgb(55,88,155)" fill-opacity="0.23" stroke="rgb(55,88,155)" stroke-opacity="0.23" stroke-width="1.9"/>
<circle cx="112.3" cy="244.5" r="4.1" fill="rgb(55,88,155)" fill-opacity="0.23" stroke="rgb(55,88,155)" stroke-opacity="0.23" stroke-width="1.9"/>
<circle cx="145.0" cy="252.6" r="4.1" fill="rgb(55,88,155)" fill-opacity="0.23" stroke="rgb(55,88,155)" stroke-opacity="0.23" stroke-width="1.9"/>
<circle cx="194.1" cy="240.3" r="4.1" fill="rgb(55,88,155)" fill-opacity="0.23" stroke="rgb(55,88,155)" stroke-opacity="0.23" stroke-width="1.9"/>
<circle cx="243.3" cy="222.1" r="4.1" fill="rgb(55,88,155)" fill-opacity="0.23" stroke="rgb(55,88,155)" stroke-opacity="0.23" stroke-width="1.9"/>
<circle cx="292.6" cy="233.0" r="4.1" fill="rgb(55,88,155)" fill-opacity="0.23" stroke="rgb(55,88,155)" stroke-opacity="0.23" stroke-width="1.9"/>
<circle cx="341.7" cy="237.2" r="4.1" fill="rgb(55,88,155)" fill-opacity="0.23" stroke="rgb(55,88,155)" stroke-opacity="0.23" stroke-width="1.9"/>
<circle cx="390.5" cy="218.5" r="4.1" fill="rgb(55,88,155)" fill-opacity="0.23" stroke="rgb(55,88,155)" stroke-opacity="0.23" stroke-width="1.9"/>
<polyline points="95.7,136.6 103.7,131.0 112.3,192.5 194.1,240.3 243.3,238.1 292.6,243.1 341.7,243.6 390.5,224.4" fill="none" stroke="rgb(85,100,150)" stroke-opacity="0.22" stroke-width="2.0" stroke-linejoin="round"/>
<circle cx="95.7" cy="136.6" r="4.1" fill="rgb(55,88,155)" fill-opacity="0.23" stroke="rgb(55,88,155)" stroke-opacity="0.23" stroke-width="1.9"/>
<circle cx="103.7" cy="131.0" r="4.1" fill="rgb(55,88,155)" fill-opacity="0.23" stroke="rgb(55,88,155)" stroke-opacity="0.23" stroke-width="1.9"/>
<circle cx="112.3" cy="192.5" r="4.1" fill="rgb(55,88,155)" fill-opacity="0.23" stroke="rgb(55,88,155)" stroke-opacity="0.23" stroke-width="1.9"/>
<circle cx="194.1" cy="240.3" r="4.1" fill="rgb(55,88,155)" fill-opacity="0.23" stroke="rgb(55,88,155)" stroke-opacity="0.23" stroke-width="1.9"/>
<circle cx="243.3" cy="238.1" r="4.1" fill="rgb(55,88,155)" fill-opacity="0.23" stroke="rgb(55,88,155)" stroke-opacity="0.23" stroke-width="1.9"/>
<circle cx="292.6" cy="243.1" r="4.1" fill="rgb(55,88,155)" fill-opacity="0.23" stroke="rgb(55,88,155)" stroke-opacity="0.23" stroke-width="1.9"/>
<circle cx="341.7" cy="243.6" r="4.1" fill="rgb(55,88,155)" fill-opacity="0.23" stroke="rgb(55,88,155)" stroke-opacity="0.23" stroke-width="1.9"/>
<circle cx="390.5" cy="224.4" r="4.1" fill="rgb(55,88,155)" fill-opacity="0.23" stroke="rgb(55,88,155)" stroke-opacity="0.23" stroke-width="1.9"/>
<circle cx="95.7" cy="103.1" r="4.1" fill="rgb(170,18,68)" fill-opacity="0.3" stroke="rgb(170,18,68)" stroke-opacity="0.3" stroke-width="1.9"/>
<circle cx="103.7" cy="102.2" r="4.1" fill="rgb(170,18,68)" fill-opacity="0.3" stroke="rgb(170,18,68)" stroke-opacity="0.3" stroke-width="1.9"/>
<circle cx="112.3" cy="113.7" r="4.1" fill="rgb(170,18,68)" fill-opacity="0.3" stroke="rgb(170,18,68)" stroke-opacity="0.3" stroke-width="1.9"/>
<circle cx="95.7" cy="143.6" r="4.1" fill="rgb(170,18,68)" fill-opacity="0.3" stroke="rgb(170,18,68)" stroke-opacity="0.3" stroke-width="1.9"/>
<circle cx="95.7" cy="150.6" r="4.1" fill="rgb(170,18,68)" fill-opacity="0.3" stroke="rgb(170,18,68)" stroke-opacity="0.3" stroke-width="1.9"/>
<circle cx="103.7" cy="142.2" r="4.1" fill="rgb(170,18,68)" fill-opacity="0.3" stroke="rgb(170,18,68)" stroke-opacity="0.3" stroke-width="1.9"/>
<circle cx="103.7" cy="147.8" r="4.1" fill="rgb(170,18,68)" fill-opacity="0.3" stroke="rgb(170,18,68)" stroke-opacity="0.3" stroke-width="1.9"/>
<circle cx="112.3" cy="133.8" r="4.1" fill="rgb(170,18,68)" fill-opacity="0.3" stroke="rgb(170,18,68)" stroke-opacity="0.3" stroke-width="1.9"/>
<circle cx="112.3" cy="144.4" r="4.1" fill="rgb(170,18,68)" fill-opacity="0.3" stroke="rgb(170,18,68)" stroke-opacity="0.3" stroke-width="1.9"/>
<circle cx="103.7" cy="127.1" r="4.1" fill="rgb(170,18,68)" fill-opacity="0.3" stroke="rgb(170,18,68)" stroke-opacity="0.3" stroke-width="1.9"/>
<circle cx="103.7" cy="159.0" r="4.1" fill="rgb(170,18,68)" fill-opacity="0.3" stroke="rgb(170,18,68)" stroke-opacity="0.3" stroke-width="1.9"/>
<circle cx="103.7" cy="154.8" r="4.1" fill="rgb(170,18,68)" fill-opacity="0.3" stroke="rgb(170,18,68)" stroke-opacity="0.3" stroke-width="1.9"/>
<circle cx="95.7" cy="138.0" r="4.1" fill="rgb(170,18,68)" fill-opacity="0.3" stroke="rgb(170,18,68)" stroke-opacity="0.3" stroke-width="1.9"/>
<circle cx="112.3" cy="138.0" r="4.1" fill="rgb(170,18,68)" fill-opacity="0.3" stroke="rgb(170,18,68)" stroke-opacity="0.3" stroke-width="1.9"/>
<circle cx="112.3" cy="128.2" r="4.1" fill="rgb(170,18,68)" fill-opacity="0.3" stroke="rgb(170,18,68)" stroke-opacity="0.3" stroke-width="1.9"/>
<circle cx="103.7" cy="138.0" r="4.1" fill="rgb(170,18,68)" fill-opacity="0.3" stroke="rgb(170,18,68)" stroke-opacity="0.3" stroke-width="1.9"/>
<circle cx="95.7" cy="172.4" r="4.1" fill="rgb(55,88,155)" fill-opacity="0.23" stroke="rgb(55,88,155)" stroke-opacity="0.23" stroke-width="1.9"/>
<circle cx="194.1" cy="233.3" r="4.1" fill="rgb(55,88,155)" fill-opacity="0.23" stroke="rgb(55,88,155)" stroke-opacity="0.23" stroke-width="1.9"/>
<circle cx="194.1" cy="240.3" r="4.1" fill="rgb(55,88,155)" fill-opacity="0.23" stroke="rgb(55,88,155)" stroke-opacity="0.23" stroke-width="1.9"/>
<circle cx="243.3" cy="217.4" r="4.1" fill="rgb(55,88,155)" fill-opacity="0.23" stroke="rgb(55,88,155)" stroke-opacity="0.23" stroke-width="1.9"/>
<circle cx="292.6" cy="229.4" r="4.1" fill="rgb(55,88,155)" fill-opacity="0.23" stroke="rgb(55,88,155)" stroke-opacity="0.23" stroke-width="1.9"/>
<circle cx="341.7" cy="167.9" r="4.1" fill="rgb(55,88,155)" fill-opacity="0.23" stroke="rgb(55,88,155)" stroke-opacity="0.23" stroke-width="1.9"/>
<circle cx="292.6" cy="117.9" r="4.1" fill="rgb(170,18,68)" fill-opacity="0.3" stroke="rgb(170,18,68)" stroke-opacity="0.3" stroke-width="1.9"/>
<circle cx="145.0" cy="172.1" r="4.1" fill="rgb(170,18,68)" fill-opacity="0.3" stroke="rgb(170,18,68)" stroke-opacity="0.3" stroke-width="1.9"/>
<circle cx="341.7" cy="158.7" r="4.1" fill="rgb(170,18,68)" fill-opacity="0.3" stroke="rgb(170,18,68)" stroke-opacity="0.3" stroke-width="1.9"/>
<circle cx="341.7" cy="190.0" r="4.1" fill="rgb(170,18,68)" fill-opacity="0.3" stroke="rgb(170,18,68)" stroke-opacity="0.3" stroke-width="1.9"/>
</g>
<line x1="81.5" y1="156.2" x2="505" y2="156.2" stroke="#20426f" stroke-width="2" stroke-dasharray="10 7.8"/>
<line x1="81.4" y1="199.8" x2="505" y2="199.8" stroke="#c00a35" stroke-width="2" stroke-dasharray="10 7.8"/>
<line x1="79.8" y1="248.4" x2="505" y2="248.4" stroke="#000" stroke-width="2" stroke-dasharray="10 7.8"/>
<line x1="81" y1="304.3" x2="505" y2="304.3" stroke="#000" stroke-width="2"/>
<line x1="81" y1="18.3" x2="81" y2="549" stroke="#000" stroke-width="2"/>
<line x1="80" y1="548" x2="495.8" y2="548" stroke="#000" stroke-width="2"/>
<line x1="74.4" y1="527.9" x2="81" y2="527.9" stroke="#000" stroke-width="1.6"/>
<text x="66.5" y="533.6" text-anchor="end" font-family="Liberation Sans" fill="#111" stroke="#111" stroke-width="0.05" font-size="17.2">0</text>
<line x1="74.4" y1="472.0" x2="81" y2="472.0" stroke="#000" stroke-width="1.6"/>
<text x="66.5" y="477.7" text-anchor="end" font-family="Liberation Sans" fill="#111" stroke="#111" stroke-width="0.05" font-size="17.2">2</text>
<line x1="74.4" y1="416.1" x2="81" y2="416.1" stroke="#000" stroke-width="1.6"/>
<text x="66.5" y="421.8" text-anchor="end" font-family="Liberation Sans" fill="#111" stroke="#111" stroke-width="0.05" font-size="17.2">4</text>
<line x1="74.4" y1="360.2" x2="81" y2="360.2" stroke="#000" stroke-width="1.6"/>
<text x="66.5" y="365.9" text-anchor="end" font-family="Liberation Sans" fill="#111" stroke="#111" stroke-width="0.05" font-size="17.2">6</text>
<line x1="74.4" y1="304.3" x2="81" y2="304.3" stroke="#000" stroke-width="1.6"/>
<text x="66.5" y="310.0" text-anchor="end" font-family="Liberation Sans" fill="#111" stroke="#111" stroke-width="0.05" font-size="17.2">8</text>
<line x1="74.4" y1="248.4" x2="81" y2="248.4" stroke="#000" stroke-width="1.6"/>
<text x="66.5" y="254.1" text-anchor="end" font-family="Liberation Sans" fill="#111" stroke="#111" stroke-width="0.05" font-size="17.2">10</text>
<line x1="74.4" y1="192.5" x2="81" y2="192.5" stroke="#000" stroke-width="1.6"/>
<text x="66.5" y="198.2" text-anchor="end" font-family="Liberation Sans" fill="#111" stroke="#111" stroke-width="0.05" font-size="17.2">12</text>
<line x1="74.4" y1="136.6" x2="81" y2="136.6" stroke="#000" stroke-width="1.6"/>
<text x="66.5" y="142.3" text-anchor="end" font-family="Liberation Sans" fill="#111" stroke="#111" stroke-width="0.05" font-size="17.2">14</text>
<line x1="74.4" y1="80.7" x2="81" y2="80.7" stroke="#000" stroke-width="1.6"/>
<text x="66.5" y="86.4" text-anchor="end" font-family="Liberation Sans" fill="#111" stroke="#111" stroke-width="0.05" font-size="17.2">16</text>
<line x1="74.4" y1="24.8" x2="81" y2="24.8" stroke="#000" stroke-width="1.6"/>
<text x="66.5" y="30.5" text-anchor="end" font-family="Liberation Sans" fill="#111" stroke="#111" stroke-width="0.05" font-size="17.2">18</text>
<line x1="96.8" y1="548" x2="96.8" y2="554.5" stroke="#000" stroke-width="1.6"/>
<text x="97.1" y="577.2" text-anchor="middle" font-family="Liberation Sans" fill="#111" stroke="#111" stroke-width="0.05" font-size="17.2">0</text>
<line x1="194.9" y1="548" x2="194.9" y2="554.5" stroke="#000" stroke-width="1.6"/>
<text x="195.2" y="577.2" text-anchor="middle" font-family="Liberation Sans" fill="#111" stroke="#111" stroke-width="0.05" font-size="17.2">6</text>
<line x1="293.0" y1="548" x2="293.0" y2="554.5" stroke="#000" stroke-width="1.6"/>
<text x="293.3" y="577.2" text-anchor="middle" font-family="Liberation Sans" fill="#111" stroke="#111" stroke-width="0.05" font-size="17.2">12</text>
<line x1="391.0" y1="548" x2="391.0" y2="554.5" stroke="#000" stroke-width="1.6"/>
<text x="391.3" y="577.2" text-anchor="middle" font-family="Liberation Sans" fill="#111" stroke="#111" stroke-width="0.05" font-size="17.2">18</text>
<line x1="489.1" y1="548" x2="489.1" y2="554.5" stroke="#000" stroke-width="1.6"/>
<text x="489.4" y="577.2" text-anchor="middle" font-family="Liberation Sans" fill="#111" stroke="#111" stroke-width="0.05" font-size="17.2">24</text>
<text transform="translate(288.8,607.4) scale(0.69,1)" text-anchor="middle" font-family="Liberation Sans" fill="#111" stroke="#111" stroke-width="0.45" font-size="21">Months</text>
<text transform="translate(34.4,284.1) rotate(-90) scale(0.737,1)" text-anchor="middle" font-family="Liberation Sans" fill="#111" stroke="#111" stroke-width="0.45" font-size="21">Hemoglobin (g/dL)</text>
<line x1="374.8" y1="397.1" x2="409.4" y2="397.1" stroke="rgb(185,40,60)" stroke-opacity="0.57" stroke-width="2.2"/>
<text x="417.2" y="402.1" font-family="Liberation Sans" fill="#111" stroke="#111" stroke-width="0.05" font-size="16.3" textLength="49.6" lengthAdjust="spacingAndGlyphs">Female</text>
<line x1="374.8" y1="422.6" x2="409.4" y2="422.6" stroke="rgb(40,50,100)" stroke-opacity="0.62" stroke-width="2.2"/>
<text x="417.2" y="427.6" font-family="Liberation Sans" fill="#111" stroke="#111" stroke-width="0.05" font-size="16.3" textLength="32.7" lengthAdjust="spacingAndGlyphs">Male</text>
<line x1="374.8" y1="448.1" x2="409.4" y2="448.1" stroke="#c00a35" stroke-width="2" stroke-dasharray="10 7" stroke-dashoffset="5"/>
<text x="417.2" y="453.1" font-family="Liberation Sans" fill="#111" stroke="#111" stroke-width="0.05" font-size="16.3" textLength="46.0" lengthAdjust="spacingAndGlyphs">LLN, F</text>
<line x1="374.8" y1="473.6" x2="409.4" y2="473.6" stroke="#20426f" stroke-width="2" stroke-dasharray="10 7" stroke-dashoffset="5"/>
<text x="417.2" y="478.6" font-family="Liberation Sans" fill="#111" stroke="#111" stroke-width="0.05" font-size="16.3" textLength="50.3" lengthAdjust="spacingAndGlyphs">LLN, M</text>
<line x1="374.8" y1="499.2" x2="409.4" y2="499.2" stroke="#000" stroke-width="2" stroke-dasharray="10 7" stroke-dashoffset="5"/>
<text x="417.2" y="504.2" font-family="Liberation Sans" fill="#111" stroke="#111" stroke-width="0.05" font-size="16.3" textLength="64.2" lengthAdjust="spacingAndGlyphs">CTC gr.2</text>
<line x1="374.8" y1="524.8" x2="409.4" y2="524.8" stroke="#000" stroke-width="2"/>
<text x="417.2" y="529.8" font-family="Liberation Sans" fill="#111" stroke="#111" stroke-width="0.05" font-size="16.3" textLength="63.8" lengthAdjust="spacingAndGlyphs">CTC gr.3</text>
<rect x="0.5" y="0.5" width="519" height="627" fill="none" stroke="#000" stroke-width="1"/>
</g>
</svg>
</div></body></html>
